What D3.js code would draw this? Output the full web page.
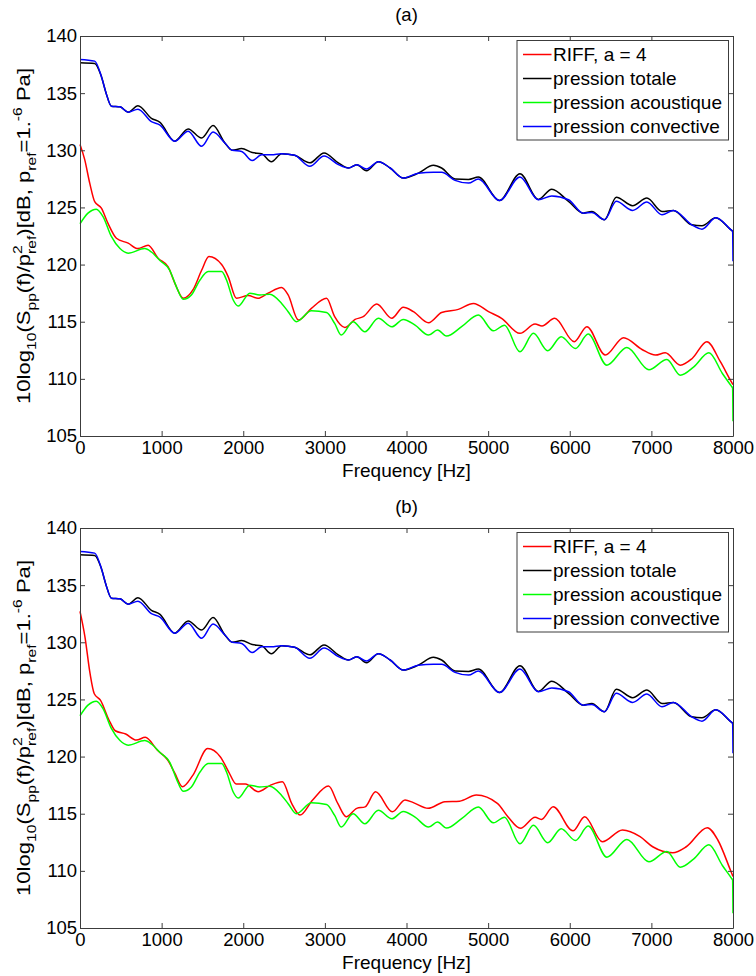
<!DOCTYPE html>
<html><head><meta charset="utf-8">
<script src="https://cdn.jsdelivr.net/npm/d3@7"></script>
<style>
body{margin:0;background:#fff;}
text{font-family:"Liberation Sans",Arial,sans-serif;}
</style></head>
<body><svg id="c" width="756" height="976"></svg>
<script>
// Frequency ticks and dB ticks
const xTicks = [0,1000,2000,3000,4000,5000,6000,7000,8000];
const yTicks = [105,110,115,120,125,130,135,140];
const panelTitles = ["(a)","(b)"];
const legendLabels = ["RIFF, a = 4","pression totale","pression acoustique","pression convective"];
const seriesColors = ["#ff0000","#000000","#00ff00","#0000ff"];

// pression totale [Hz, dB]
const totale = [[0,137.66],[180,137.6],[260,136.5],[320,135],[384,133.86],[490,133.8],[590,133.33],[710,133.9],[875,132.8],[980,132.45],[1160,130.8],[1325,131.87],[1490,131.08],[1630,132.16],[1775,130.64],[1865,130.0],[1980,130.15],[2110,129.8],[2225,129.7],[2345,129.0],[2470,129.7],[2630,129.56],[2815,128.9],[2990,129.77],[3165,128.9],[3290,128.45],[3390,128.74],[3510,128.2],[3655,129.0],[3800,128.45],[3960,127.57],[4145,128.0],[4330,128.68],[4430,128.45],[4595,127.49],[4760,127.45],[4880,127.66],[5140,125.6],[5390,127.95],[5615,125.7],[5780,126.6],[5985,125.53],[6165,124.5],[6270,124.65],[6425,123.92],[6570,125.9],[6770,125.15],[6945,125.82],[7130,124.65],[7270,124.74],[7495,123.48],[7620,123.4],[7790,124.1],[7965,123.1],[8000,122.9]];
// pression convective
const convective = [[0,137.95],[180,137.8],[260,136.5],[320,135],[384,133.86],[490,133.8],[590,133.33],[710,133.6],[875,132.5],[980,132.2],[1160,130.8],[1325,131.67],[1490,130.35],[1630,131.6],[1775,130.64],[1865,130.0],[1980,129.9],[2110,129.1],[2225,129.6],[2345,129.6],[2470,129.7],[2630,129.56],[2815,128.6],[2990,129.5],[3165,128.75],[3290,128.45],[3390,128.74],[3510,128.36],[3655,129.0],[3800,128.45],[3960,127.57],[4145,128.0],[4330,128.07],[4430,128.07],[4595,127.37],[4760,127.13],[4880,127.49],[5140,125.6],[5390,127.66],[5615,125.67],[5780,126.0],[5985,125.67],[6165,124.5],[6270,124.55],[6425,123.92],[6570,125.53],[6770,124.74],[6945,125.47],[7130,124.36],[7270,124.74],[7495,123.48],[7620,123.1],[7790,124.1],[7965,123.1],[7995,122.9],[8000,120.3]];
// pression acoustique
const acoustique = [[0,123.57],[98,124.5],[200,124.85],[282,124.2],[384,122.46],[490,121.4],[590,121.0],[793,121.4],[875,121.1],[980,120.35],[1100,119.5],[1180,118.07],[1265,116.96],[1365,117.34],[1470,118.65],[1570,119.39],[1735,119.39],[1795,118.65],[1877,116.9],[1938,116.37],[2080,117.5],[2200,117.34],[2325,117.4],[2470,116.6],[2550,115.88],[2650,115.0],[2835,115.96],[3020,115.8],[3120,114.85],[3200,113.83],[3345,115.0],[3490,114.12],[3655,115.3],[3820,114.56],[3960,115.2],[4105,114.7],[4270,113.83],[4380,114.27],[4490,113.74],[4675,114.56],[4880,115.58],[5065,114.2],[5200,114.7],[5390,112.37],[5555,113.98],[5730,112.46],[5895,113.68],[6070,112.66],[6225,113.92],[6455,111.2],[6700,112.75],[6970,110.8],[7190,111.7],[7355,110.32],[7520,111.05],[7705,112.28],[7870,110.47],[7980,109.36],[7995,109.2],[8000,106.3]];
// RIFF, a = 4 — panel (a)
const riffA = [[0,130.5],[57,129.2],[120,127.1],[180,125.5],[262,124.94],[343,123.6],[446,122.3],[590,121.87],[710,121.4],[835,121.7],[956,120.56],[1080,119.8],[1160,118.4],[1265,117.05],[1385,117.8],[1490,119.5],[1580,120.7],[1735,120.0],[1815,118.95],[1917,117.05],[2060,117.3],[2180,117.05],[2305,117.5],[2470,118.0],[2550,117.34],[2675,115.15],[2835,116.17],[3020,117.05],[3120,115.44],[3245,114.5],[3370,115.2],[3470,115.44],[3635,116.55],[3820,115.3],[3960,116.26],[4085,115.88],[4270,114.91],[4430,115.8],[4635,116.08],[4820,116.6],[5005,115.88],[5165,115.3],[5390,113.98],[5575,114.8],[5660,114.62],[5815,115.3],[6055,113.25],[6210,114.56],[6435,112.08],[6660,113.6],[6885,112.57],[7050,112.08],[7170,112.28],[7355,111.2],[7500,111.78],[7680,113.25],[7845,111.5],[7980,109.74],[8000,109.5]];
// RIFF, a = 4 — panel (b)
const riffB = [[0,132.7],[60,130.5],[123,127.27],[175,125.5],[250,124.94],[355,123.2],[432,122.26],[560,121.97],[690,121.44],[800,121.68],[946,120.57],[1075,119.7],[1163,118.53],[1255,117.36],[1384,118.38],[1564,120.7],[1718,119.99],[1821,118.67],[1914,117.6],[2027,117.6],[2181,116.92],[2335,117.5],[2480,117.8],[2593,115.9],[2695,114.88],[2850,116.2],[3045,117.42],[3158,115.9],[3261,114.74],[3390,115.47],[3493,115.6],[3621,116.92],[3827,115.17],[3982,116.2],[4084,115.97],[4264,115.47],[4470,116.05],[4650,116.1],[4856,116.63],[5113,115.9],[5242,114.74],[5396,113.72],[5576,114.68],[5653,114.5],[5797,115.61],[6039,113.5],[6183,114.74],[6399,112.55],[6646,113.57],[6862,112.99],[7016,112.11],[7263,111.59],[7428,112.11],[7685,113.78],[7814,112.7],[7968,110.07],[8000,109.5]];

const svg = d3.select("#c");
const L = 80, R = 733, H = 400;
const panelTops = [36, 528];
const riffs = [riffA, riffB];
const FS = 18.5;

panelTops.forEach((top, pi) => {
  const x = d3.scaleLinear().domain([0,8000]).range([L,R]);
  const y = d3.scaleLinear().domain([105,140]).range([top+H, top]);
  const g = svg.append("g");

  // title
  g.append("text").attr("x",(L+R)/2).attr("y",top-15).attr("text-anchor","middle")
    .attr("font-size",18.5).text(panelTitles[pi]);

  // data
  const line = d3.line().x(d=>x(d[0])).y(d=>y(d[1])).curve(d3.curveMonotoneX);
  const series = [riffs[pi], totale, acoustique, convective];
  const order = [1,3,0,2];
  order.forEach(i => {
    g.append("path").attr("d", line(series[i])).attr("fill","none")
      .attr("stroke", seriesColors[i]).attr("stroke-width",1.5).attr("stroke-linejoin","round");
  });

  // axes
  const axCol = "#3c3c3c";
  const styleAxis = sel => {
    sel.select(".domain").attr("stroke", axCol);
    sel.selectAll(".tick line").attr("stroke", axCol);
    sel.selectAll(".tick text").attr("fill","#000").attr("font-size",FS);
  };
  g.append("g").attr("transform",`translate(0,${top+H})`)
    .call(d3.axisBottom(x).tickValues(xTicks).tickFormat(d3.format("d")).tickSizeInner(-5).tickSizeOuter(0).tickPadding(5))
    .call(styleAxis);
  g.append("g").attr("transform",`translate(0,${top})`)
    .call(d3.axisTop(x).tickValues(xTicks).tickFormat("").tickSizeInner(-5).tickSizeOuter(0))
    .call(styleAxis);
  g.append("g").attr("transform",`translate(${L},0)`)
    .call(d3.axisLeft(y).tickValues(yTicks).tickFormat(d3.format("d")).tickSizeInner(-5).tickSizeOuter(0).tickPadding(3))
    .call(styleAxis);
  g.append("g").attr("transform",`translate(${R},0)`)
    .call(d3.axisRight(y).tickValues(yTicks).tickFormat("").tickSizeInner(-5).tickSizeOuter(0))
    .call(styleAxis);

  // x label
  g.append("text").attr("x",(L+R)/2).attr("y",top+H+40.5).attr("text-anchor","middle")
    .attr("font-size",19).text("Frequency [Hz]");

  // y label with sub/superscripts
  const ylg = g.append("g");
  const yl = ylg.append("text").attr("text-anchor","middle").attr("font-size",19);
  const parts = [
    ["10log",0],["10",1],["(S",0],["pp",1],["(f)/p",0],["2",-1],["ref",2],[")[dB, p",0],["ref",1],["=1.",0],["-6",-1],[" Pa]",0]
  ];
  let cur = 0;
  parts.forEach(([t,k]) => {
    let target = k===0?0:(k===-1?-8:6);
    const ts = yl.append("tspan").text(t).attr("dy", target-cur);
    if(k!==0) ts.attr("font-size",13.5);
    if(k===2) ts.attr("dx",-7.5);
    cur = target;
  });
  const len = yl.node().getComputedTextLength() || 300;
  const sx = 345 / len;
  ylg.attr("transform",`translate(29.5,${top+H/2}) rotate(-90) scale(${sx},1)`);

  // legend
  const lg = g.append("g");
  lg.append("rect").attr("x",517).attr("y",top+4.5).attr("width",211.5).attr("height",99.5)
    .attr("fill","#fff").attr("stroke",axCol).attr("stroke-width",1);
  legendLabels.forEach((lab,i) => {
    const cy = top + 18.5 + i*24;
    lg.append("line").attr("x1",523).attr("x2",551.5).attr("y1",cy).attr("y2",cy)
      .attr("stroke",seriesColors[i]).attr("stroke-width",1.5);
    lg.append("text").attr("x",553).attr("y",cy).attr("dy","0.36em").attr("font-size",19).text(lab);
  });
});
</script></body></html>
